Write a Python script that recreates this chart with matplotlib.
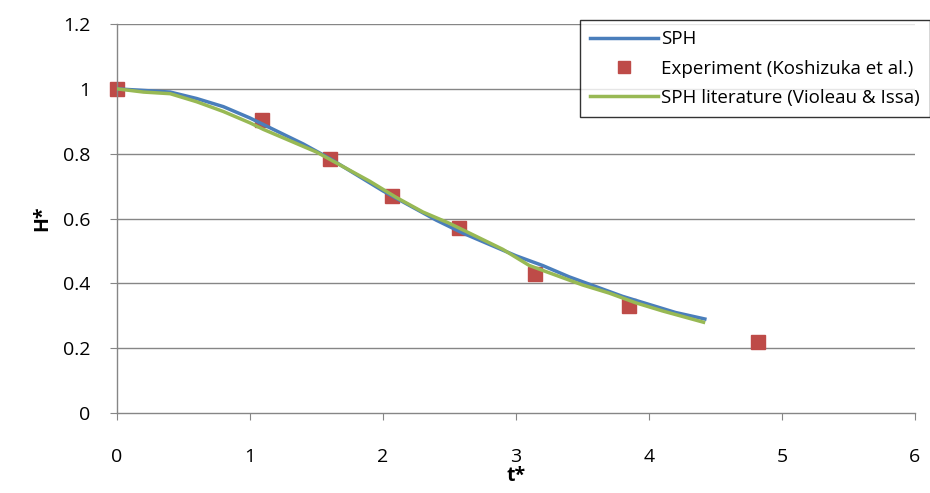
import matplotlib
matplotlib.use("Agg")
import matplotlib.pyplot as plt
from matplotlib.lines import Line2D

plt.rcParams['font.family'] = ['Open Sans', 'DejaVu Sans']

sph_t = [0, 0.2, 0.4, 0.6, 0.8, 1.0, 1.2, 1.4, 1.6, 1.8, 2.0, 2.2, 2.4, 2.6, 2.8, 3.0, 3.2, 3.4, 3.6, 3.8, 4.0, 4.2, 4.42]
sph_h = [1.0, 0.995, 0.99, 0.97, 0.945, 0.91, 0.87, 0.83, 0.785, 0.735, 0.685, 0.64, 0.595, 0.555, 0.52, 0.485, 0.455, 0.42, 0.39, 0.36, 0.335, 0.31, 0.29]

exp_t = [0, 1.09, 1.6, 2.07, 2.57, 3.14, 3.85, 4.82]
exp_h = [1.0, 0.905, 0.785, 0.67, 0.57, 0.43, 0.33, 0.22]

lit_t = [0, 0.2, 0.4, 0.6, 0.8, 1.0, 1.1, 1.3, 1.5, 1.7, 1.9, 2.1, 2.3, 2.5, 2.7, 2.9, 3.1, 3.3, 3.5, 3.7, 3.9, 4.1, 4.41]
lit_h = [1.0, 0.99, 0.985, 0.96, 0.93, 0.895, 0.875, 0.84, 0.805, 0.76, 0.715, 0.665, 0.62, 0.585, 0.545, 0.505, 0.455, 0.425, 0.395, 0.37, 0.34, 0.315, 0.28]

x_ticks = [0, 1, 2, 3, 4, 5, 6]
y_ticks = [0, 0.2, 0.4, 0.6, 0.8, 1.0, 1.2]
y_labels = ['0', '0.2', '0.4', '0.6', '0.8', '1', '1.2']

fig = plt.figure(figsize=(9.30, 4.93), dpi=100)
ax = fig.add_axes([117/930, 1-413/493, (915-117)/930, (413-24)/493])

grid_c = '#868686'
for y in y_ticks[1:]:
    ax.axhline(y, color=grid_c, lw=1.0, zorder=0)

ax.plot(sph_t, sph_h, color='#4A7EBB', lw=2.5, zorder=3, label='SPH')
ax.plot(exp_t, exp_h, linestyle='none', marker='s', ms=10, color='#BE4B48', mec='#BE4B48', zorder=2,
        clip_on=False, label='Experiment (Koshizuka et al.)')
ax.plot(lit_t, lit_h, color='#98B954', lw=2.5, zorder=4, label='SPH literature (Violeau & Issa)')

ax.set_xlim(0, 6)
ax.set_ylim(0, 1.2)
ax.set_xticks(x_ticks)
ax.set_xticklabels([str(v) for v in x_ticks])
ax.set_yticks(y_ticks)
ax.set_yticklabels(y_labels)

for s in ['top', 'right']:
    ax.spines[s].set_visible(False)
for s in ['left', 'bottom']:
    ax.spines[s].set_color(grid_c)
    ax.spines[s].set_linewidth(1.0)
ax.tick_params(axis='both', direction='out', length=5, color=grid_c, labelsize=14, labelcolor='black')
ax.tick_params(axis='x', pad=20)
ax.tick_params(axis='y', pad=14)

ax.set_xlabel('t*', fontsize=14, fontweight='bold', labelpad=0)
ax.set_ylabel('H*', fontsize=14, fontweight='bold', labelpad=8)

handles = [Line2D([], [], color='#4A7EBB', lw=2.5),
           Line2D([], [], linestyle='none', marker='s', ms=9, color='#BE4B48'),
           Line2D([], [], color='#98B954', lw=2.5)]
leg = fig.legend(handles, ['SPH', 'Experiment (Koshizuka et al.)', 'SPH literature (Violeau & Issa)'],
                 loc='upper left', bbox_to_anchor=(580/930, 1-20/493), frameon=True, fancybox=False,
                 fontsize=13.5, handlelength=3.6, handletextpad=0.15, borderpad=0.55, labelspacing=0.6,
                 borderaxespad=0)
leg.get_frame().set_edgecolor('black')
leg.get_frame().set_linewidth(1.0)

fig.savefig('out.png', dpi=100)
